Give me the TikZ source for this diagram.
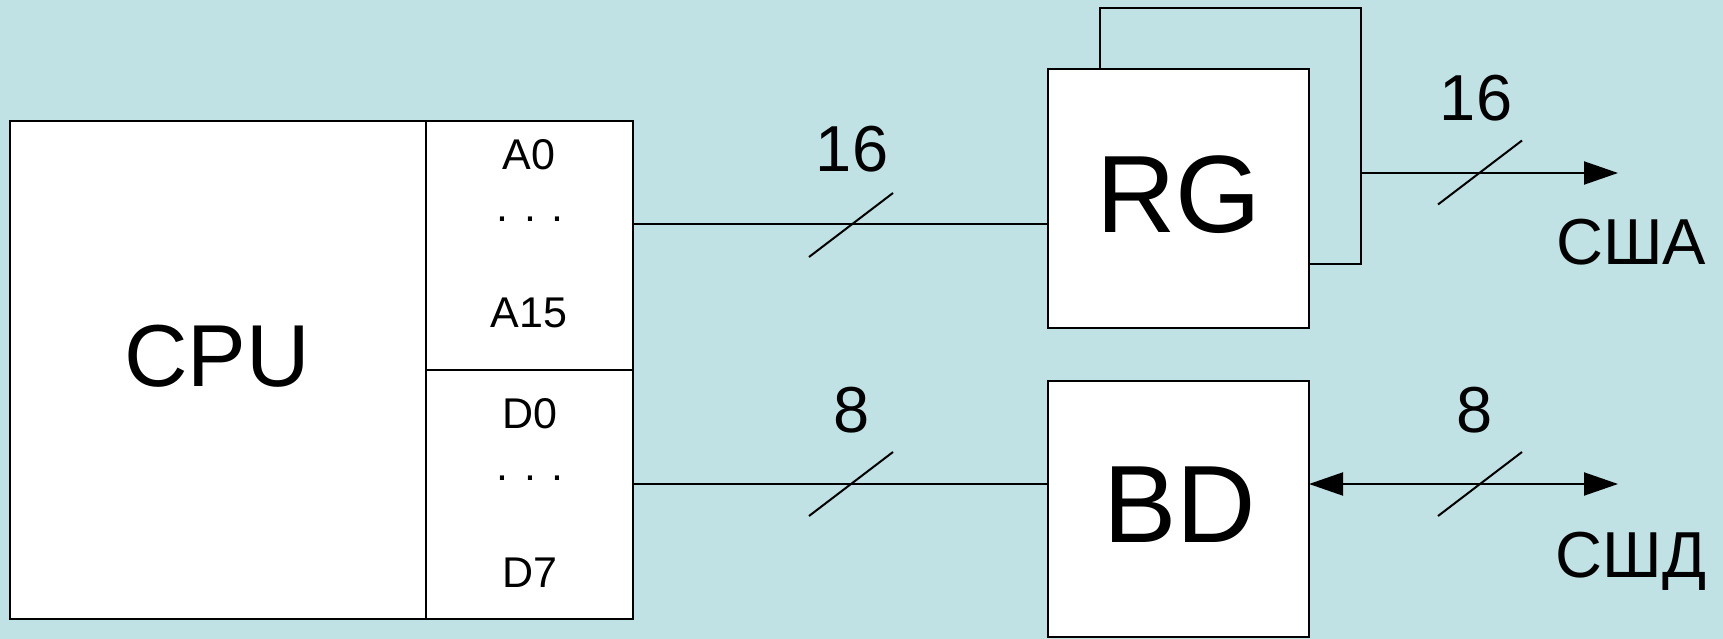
\documentclass[tikz,border=0pt]{standalone}
\usepackage{fontspec}
\setmainfont{Liberation Sans}
\usetikzlibrary{arrows.meta}
\definecolor{bgcol}{RGB}{192,226,228}
\begin{document}
\begin{tikzpicture}[x=1pt,y=-1pt,
  box/.style={draw=black, fill=white, line width=2pt, inner sep=0pt, outer sep=0pt},
  backbox/.style={draw=black, line width=2pt, inner sep=0pt, outer sep=0pt},
  wire/.style={draw=black, line width=2pt},
  tip/.style={},
  bigtxt/.style={font=\fontsize{110}{120}\selectfont, anchor=base, inner sep=0pt},
  midtxt/.style={font=\fontsize{88}{100}\selectfont, anchor=base, inner sep=0pt},
  lbltxt/.style={font=\fontsize{65}{75}\selectfont, anchor=base, inner sep=0pt},
  porttxt/.style={font=\fontsize{43}{50}\selectfont, anchor=base, inner sep=0pt},
  busmark/.pic={\draw[line width=2pt] (-42,32) -- (42,-32);}
]
\useasboundingbox (0,0) rectangle (1723,639);
\fill[bgcol] (0,0) rectangle (1723,639);

% CPU and its ports
\node[box, minimum width=623pt, minimum height=498pt] (cpu) at (321.5,370) {};
\node[box, minimum width=207pt, minimum height=249pt] (aport) at (529.5,245.5) {};
\node[box, minimum width=207pt, minimum height=249pt] (dport) at (529.5,494.5) {};

% Register (with back outline) and bus driver
\node[backbox, minimum width=261pt, minimum height=256pt] (rgback) at (1230.5,136) {};
\node[box, minimum width=261pt, minimum height=259pt] (rg) at (1178.5,198.5) {};
\node[box, minimum width=261pt, minimum height=256pt] (bd) at (1178.5,509) {};

% texts
\node[midtxt] (cputxt) at (217,386) {CPU};
\node[porttxt] (a0) at (529,170) {A0};
\node[porttxt] (adots) at (530,221) {. . .};
\node[porttxt] (a15) at (529,327) {A15};
\node[porttxt] (d0) at (530,428) {D0};
\node[porttxt] (ddots) at (530,480) {. . .};
\node[porttxt] (d7) at (530,587) {D7};
\node[bigtxt] (rgtxt) at (1179,232) {RG};
\node[bigtxt] (bdtxt) at (1180,542) {BD};
\node[lbltxt] (n16a) at (852,172) {16};
\node[lbltxt] (n8a) at (852,432) {8};
\node[lbltxt] (n16b) at (1476,121) {16};
\node[lbltxt] (n8b) at (1475,432) {8};
\node[lbltxt] (usa) at (1631,264) {США};
\node[lbltxt] (usd) at (1631,577) {СШД};

% connectors
\coordinate (ya) at (0,224);
\coordinate (yd) at (0,484);
\coordinate (yo) at (0,173);
\coordinate (endA) at (1618,173);
\coordinate (endD) at (1618,484);
\draw[wire] (aport.east |- ya) -- (rg.west |- ya);
\draw[wire] (dport.east |- yd) -- (bd.west |- yd);
\draw[wire, -{Triangle[length=34pt,width=23pt]}] (rgback.east |- yo) -- (endA);
\draw[wire, {Triangle[length=34pt,width=23pt]}-{Triangle[length=34pt,width=23pt]}] (bd.east |- yd) -- (endD);

% bus width marks
\pic at (851,225) {busmark};
\pic at (851,484) {busmark};
\pic at (1480,172.5) {busmark};
\pic at (1480,484) {busmark};
\end{tikzpicture}
\end{document}
